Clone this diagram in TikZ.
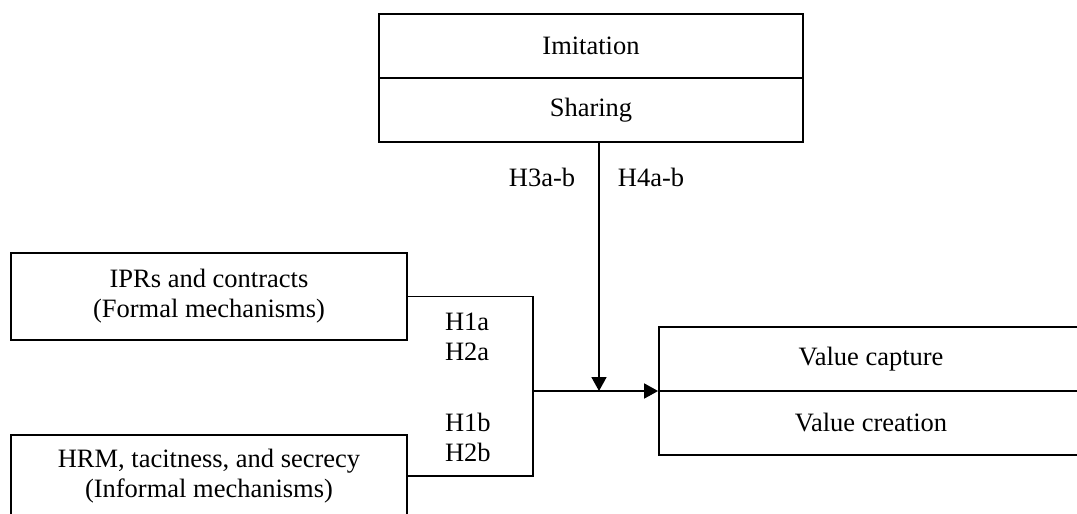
\documentclass[tikz,border=0pt]{standalone}
\usepackage{fontspec}
\setmainfont{Liberation Serif}
\usetikzlibrary{arrows.meta}
\begin{document}
\begin{tikzpicture}[x=0.5pt,y=-0.5pt,
    every node/.style={font=\fontsize{13.25}{15}\selectfont},
    box/.style={draw,line width=0.9pt,minimum width=212pt,minimum height=32pt,inner sep=0pt,align=center},
    sidebox/.style={box,minimum width=198pt,minimum height=43.5pt},
    link/.style={line width=0.9pt},
    tip/.style={link,-{Triangle[length=7pt,width=7.5pt]}}]
            \useasboundingbox (0,0) rectangle (1077,514);
            \clip (0,0) rectangle (1077,514);
            \node[box] (imit) at (591,46) {Imitation};
            \node[box] (shar) at (591,110) {Sharing};
            \node[sidebox] (ipr) at (209,296.5) {IPRs and contracts\\(Formal mechanisms)};
            \node[sidebox,minimum height=41pt] (hrm) at (209,476) {HRM, tacitness, and secrecy\\(Informal mechanisms)};
            \node[box] (capt) at (871,359) {Value capture};
            \node[box] (creat) at (871,423) {Value creation};
            \coordinate (junc) at (533,391);
            \coordinate (drop) at (599,391);
            \draw[link] (ipr.east) -| (junc);
            \draw[link] (hrm.east) -| (junc);
            \draw[tip] (junc) -- (junc -| capt.west);
            \draw[tip] (shar.south -| drop) -- (drop);
            \node[anchor=west,align=left] (hab) at (438,337) {H1a\\H2a};
            \node[anchor=west,align=left] (hcd) at (438,437) {H1b\\H2b};
            \node (hthree) at (542,177) {H3a-b};
            \node (hfour) at (651,177) {H4a-b};
\end{tikzpicture}
\end{document}
